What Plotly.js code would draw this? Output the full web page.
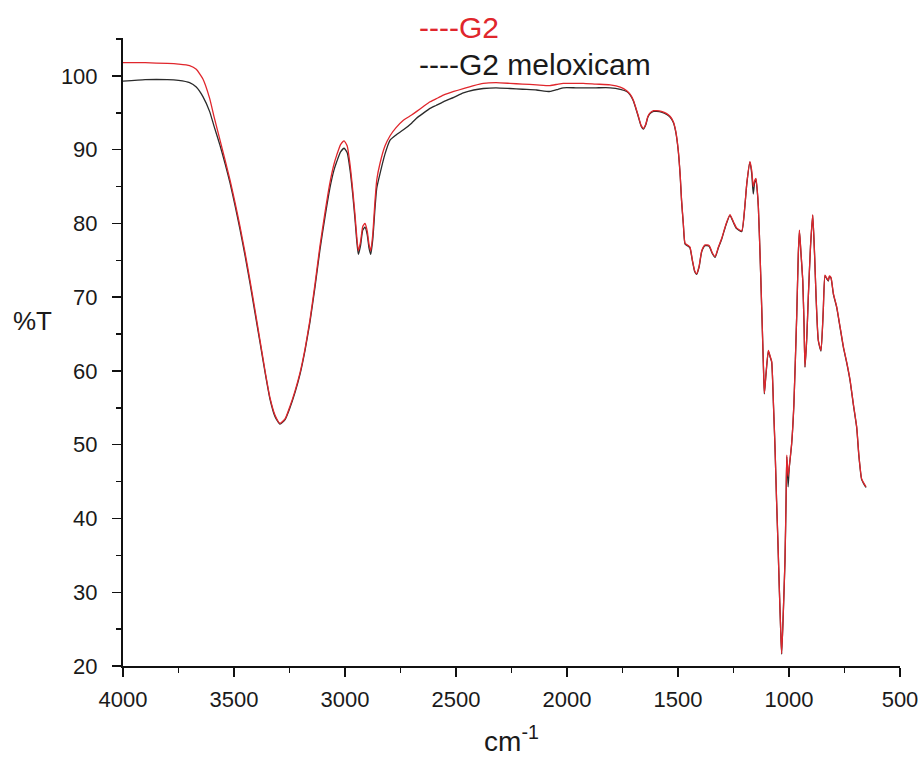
<!DOCTYPE html>
<html>
<head>
<meta charset="utf-8">
<script src="https://cdn.plot.ly/plotly-3.0.1.min.js"></script>
<style>
  html, body { margin: 0; padding: 0; background: #fff; }
  #chart { width: 924px; height: 762px; }
</style>
</head>
<body>
<div id="chart"></div>
<script>
// FTIR spectra: wavenumber (cm-1) vs transmittance (%T)
const wavenumber = [
  4000, 3900, 3800, 3750, 3700, 3670, 3640, 3610, 3590, 3563,
  3540, 3518, 3495, 3473, 3450, 3428, 3405, 3383, 3360, 3338,
  3315, 3293, 3270, 3248, 3225, 3203, 3180, 3158, 3135, 3113,
  3090, 3068, 3050, 3037, 3020, 3004, 2990, 2977, 2965, 2955,
  2947, 2940, 2930, 2920, 2910, 2900, 2892, 2884, 2875, 2865,
  2857, 2842, 2820, 2797, 2770, 2737, 2700, 2677, 2650, 2617,
  2590, 2557, 2510, 2467, 2420, 2377, 2320, 2257, 2200, 2137,
  2077, 2040, 2017, 1960, 1927, 1870, 1806, 1760, 1731, 1715,
  1701, 1690, 1679, 1666, 1656, 1645, 1636, 1626, 1610, 1596,
  1575, 1551, 1535, 1521, 1510, 1499, 1490, 1484, 1476, 1468,
  1453, 1446, 1435, 1425, 1416, 1405, 1393, 1378, 1360, 1345,
  1333, 1318, 1303, 1285, 1266, 1250, 1236, 1213, 1200, 1190,
  1176, 1168, 1161, 1155, 1149, 1143, 1138, 1130, 1123, 1115,
  1111, 1104, 1093, 1085, 1078, 1070, 1063, 1056, 1050, 1043,
  1037, 1033, 1026, 1018, 1013, 1010, 1004, 999, 988, 978,
  965, 958, 953, 946, 938, 932, 928, 920, 913, 903,
  893, 885, 878, 868, 856, 846, 838, 830, 823, 818,
  811, 800, 785, 770, 755, 740, 725, 710, 695, 685,
  673, 665, 653
];

const g2 = [
  101.8, 101.8, 101.7, 101.6, 101.4, 100.9, 99.6, 97.0, 94.5, 91.3,
  88.6, 85.9, 82.8, 79.6, 76.0, 72.3, 68.2, 64.2, 60.0, 56.4,
  54.0, 52.9, 53.5, 55.2, 57.3, 59.7, 63.0, 66.9, 71.8, 76.9,
  81.5, 85.5, 88.0, 89.3, 90.7, 91.2, 90.5, 87.9, 84.5, 81.2,
  78.2, 76.3, 77.5, 79.6, 80.0, 79.0, 77.2, 76.3, 78.5, 83.0,
  85.9, 88.2, 90.5, 91.9, 93.0, 94.0, 94.7, 95.2, 95.8, 96.5,
  96.9, 97.4, 97.9, 98.3, 98.7, 99.0, 99.1, 99.0, 98.9, 98.8,
  98.7, 98.9, 99.0, 99.0, 99.0, 98.9, 98.8, 98.5, 98.0, 97.5,
  96.7, 95.7, 94.6, 93.3, 92.9, 93.5, 94.5, 95.0, 95.3, 95.3,
  95.2, 94.9, 94.5, 93.8, 92.5, 90.0, 86.5, 83.2, 80.0, 77.3,
  77.0, 76.8, 75.0, 73.6, 73.2, 74.2, 76.3, 77.1, 77.0, 76.0,
  75.5, 76.8, 78.0, 79.8, 81.2, 80.2, 79.4, 79.0, 82.0, 85.5,
  88.4, 87.2, 85.0, 85.8, 86.1, 84.5, 82.3, 75.5, 68.7, 60.5,
  57.0, 59.5, 62.8, 62.0, 61.3, 55.5, 49.7, 42.5, 37.0, 30.0,
  24.5, 21.7, 27.0, 34.4, 43.0, 48.6, 45.7, 47.0, 50.2, 55.5,
  67.8, 76.0, 79.1, 76.0, 72.3, 66.0, 60.6, 64.5, 70.1, 77.0,
  81.2, 76.0, 70.1, 64.2, 62.8, 68.0, 73.0, 72.6, 72.3, 72.9,
  72.7, 70.5, 68.7, 66.0, 63.3, 61.2, 58.8, 55.5, 52.4, 48.5,
  45.4, 44.9, 44.3
];

const g2Meloxicam = [
  99.3, 99.5, 99.5, 99.4, 99.1, 98.5, 97.2, 95.2, 93.2, 90.6,
  88.1, 85.5, 82.4, 79.2, 75.6, 71.9, 67.8, 63.9, 59.8, 56.2,
  53.8, 52.8, 53.4, 55.0, 57.1, 59.5, 62.8, 66.6, 71.4, 76.4,
  80.9, 84.8, 87.2, 88.4, 89.7, 90.2, 89.6, 87.2, 83.9, 80.6,
  77.6, 75.8, 77.0, 79.1, 79.5, 78.5, 76.7, 75.8, 77.8, 82.0,
  84.8, 86.8, 89.4, 91.3, 92.0, 92.7, 93.6, 94.3, 94.9, 95.6,
  96.0, 96.5, 97.1, 97.7, 98.1, 98.3, 98.4, 98.3, 98.2, 98.1,
  97.9, 98.2, 98.4, 98.4, 98.4, 98.4, 98.4, 98.2, 97.9, 97.4,
  96.6, 95.6, 94.5, 93.2, 92.8, 93.4, 94.4, 94.9, 95.2, 95.2,
  95.1, 94.8, 94.4, 93.7, 92.4, 89.9, 86.4, 83.1, 79.9, 77.2,
  76.9, 76.7, 74.9, 73.5, 73.1, 74.1, 76.2, 77.0, 76.9, 75.9,
  75.4, 76.7, 77.9, 79.7, 81.1, 80.1, 79.3, 78.9, 81.9, 85.4,
  88.3, 86.8, 84.0, 85.5, 86.0, 84.4, 82.2, 75.4, 68.6, 60.4,
  56.9, 59.4, 62.7, 61.9, 61.2, 55.4, 49.6, 42.4, 36.9, 29.9,
  24.4, 21.6, 26.9, 34.3, 42.8, 48.4, 44.3, 46.8, 50.1, 55.4,
  67.7, 75.9, 79.0, 75.9, 72.2, 65.9, 60.5, 64.4, 70.0, 76.9,
  81.1, 75.9, 70.0, 64.1, 62.7, 67.9, 72.9, 72.5, 72.2, 72.8,
  72.6, 70.4, 68.6, 65.9, 63.2, 61.1, 58.7, 55.4, 52.3, 48.4,
  45.3, 44.8, 44.2
];

const xTicks = [4000, 3500, 3000, 2500, 2000, 1500, 1000, 500];
const yTicks = [20, 30, 40, 50, 60, 70, 80, 90, 100];

const FONT = "Liberation Sans, Arial, sans-serif";
const RED = "#e0262c";
const INK = "#1a1a1a";

const traces = [
  {
    x: wavenumber, y: g2Meloxicam, type: "scatter", mode: "lines",
    name: "G2 meloxicam",
    line: { color: "#2a2a2a", width: 1.3, shape: "spline", smoothing: 0.5 }
  },
  {
    x: wavenumber, y: g2, type: "scatter", mode: "lines",
    name: "G2",
    line: { color: RED, width: 1.3, shape: "spline", smoothing: 0.5 }
  }
];

const layout = {
  width: 924, height: 762,
  margin: { l: 123, r: 24, t: 38, b: 96 },
  paper_bgcolor: "#ffffff", plot_bgcolor: "#ffffff",
  showlegend: false,
  font: { family: FONT, color: INK },
  xaxis: {
    range: [4000, 500],
    tickvals: xTicks,
    ticktext: xTicks.map(String),
    ticks: "outside", ticklen: 9, tickwidth: 1.5, tickcolor: "#111",
    minor: { dtick: 250, tick0: 0, ticks: "outside", ticklen: 5, tickwidth: 1.5, tickcolor: "#111", showgrid: false },
    showline: true, linecolor: "#111", linewidth: 2,
    showgrid: false, zeroline: false,
    tickfont: { family: FONT, size: 22, color: INK },
    ticklabelstandoff: 4,
    title: { text: "cm<sup>-1</sup>", font: { family: FONT, size: 28, color: INK }, standoff: 20 }
  },
  yaxis: {
    range: [20, 105.15],
    tickvals: yTicks,
    ticktext: yTicks.map(String),
    ticks: "outside", ticklen: 9, tickwidth: 1.5, tickcolor: "#111",
    minor: { dtick: 5, tick0: 0, ticks: "outside", ticklen: 5, tickwidth: 1.5, tickcolor: "#111", showgrid: false },
    showline: true, linecolor: "#111", linewidth: 2,
    showgrid: false, zeroline: false,
    tickfont: { family: FONT, size: 22, color: INK },
    ticklabelstandoff: 10
  },
  annotations: [
    {
      text: "%T", xref: "paper", yref: "paper",
      x: -0.117, y: 0.55, xanchor: "center", yanchor: "middle",
      showarrow: false, font: { family: FONT, size: 26, color: INK }
    },
    {
      text: "----G2", xref: "paper", yref: "paper",
      x: 0.379, y: 1.017, xanchor: "left", yanchor: "middle",
      showarrow: false, font: { family: FONT, size: 30, color: RED }
    },
    {
      text: "----G2 meloxicam", xref: "paper", yref: "paper",
      x: 0.379, y: 0.958, xanchor: "left", yanchor: "middle",
      showarrow: false, font: { family: FONT, size: 30, color: INK }
    }
  ]
};

Plotly.newPlot("chart", traces, layout, { staticPlot: true, displayModeBar: false });
</script>
</body>
</html>
